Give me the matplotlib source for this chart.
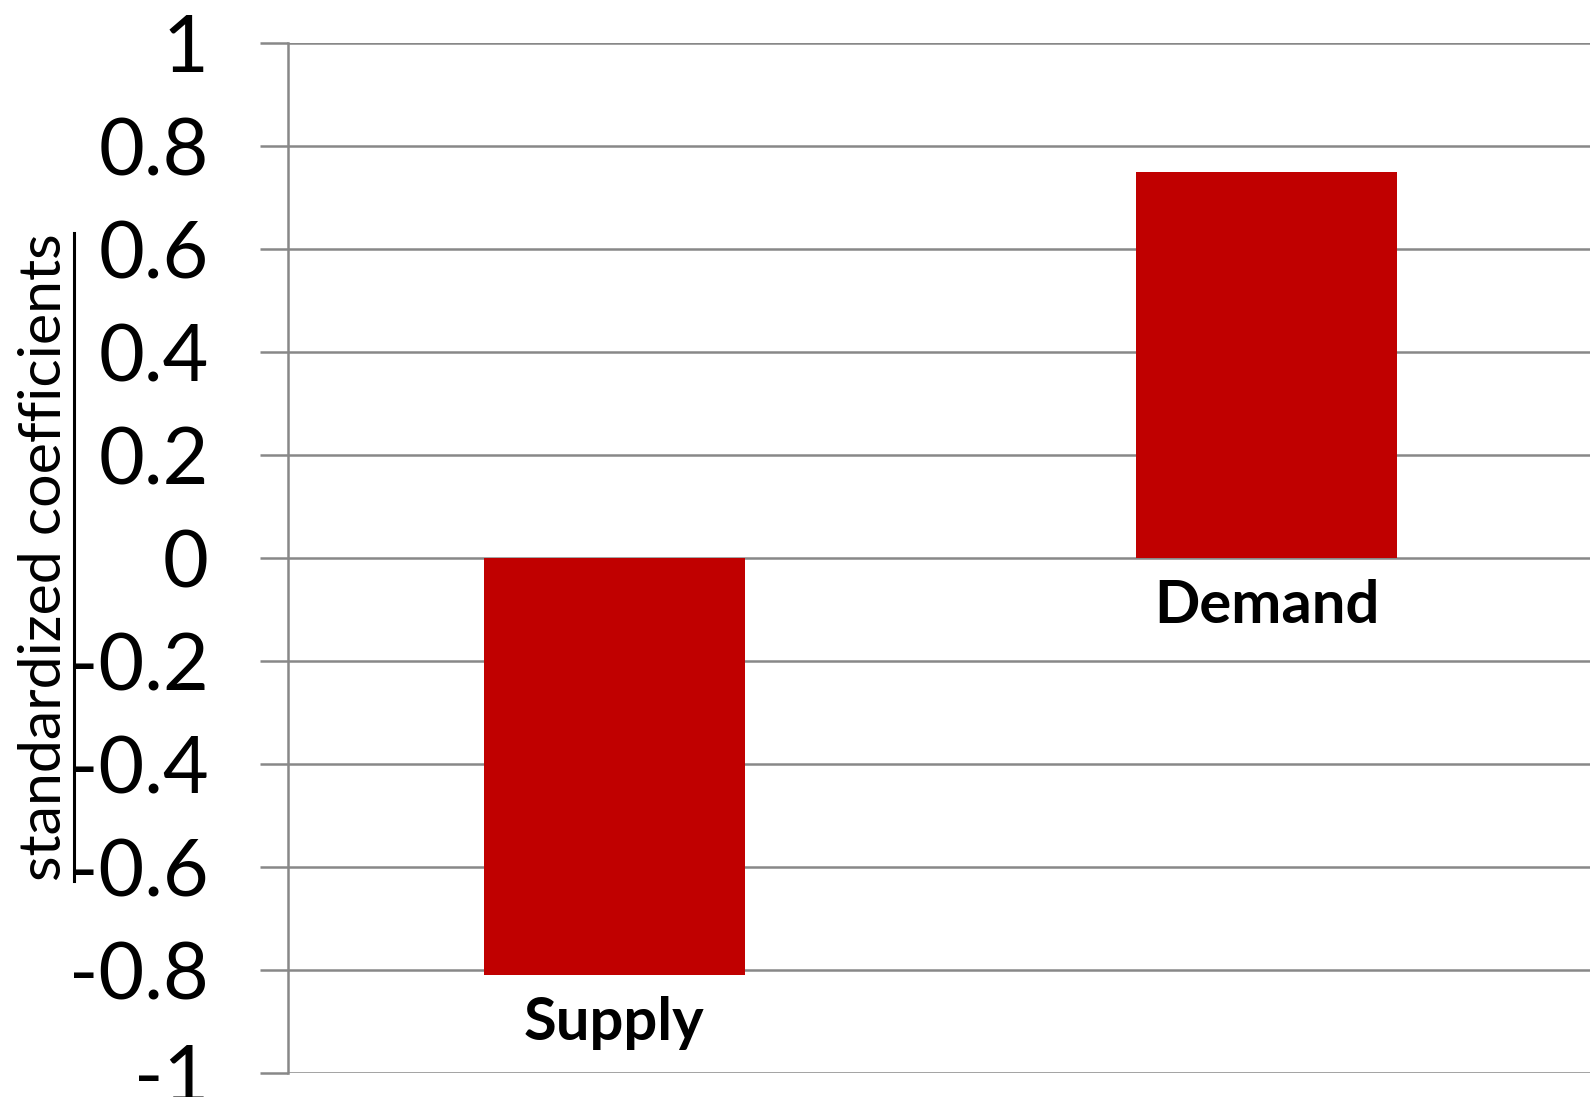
import matplotlib
matplotlib.use("Agg")
import matplotlib.pyplot as plt
from matplotlib.lines import Line2D

categories = ["Supply", "Demand"]
values = [-0.81, 0.75]
yticks = [-1, -0.8, -0.6, -0.4, -0.2, 0, 0.2, 0.4, 0.6, 0.8, 1]
ytick_labels = ["-1", "-0.8", "-0.6", "-0.4", "-0.2", "0", "0.2", "0.4", "0.6", "0.8", "1"]
ylabel = "standardized coefficients"

W, H = 1590, 1097
fig = plt.figure(figsize=(W / 100, H / 100), dpi=100)
ax = fig.add_axes([288 / W, (H - 1073) / H, 1 - 288 / W + 0.002, (1073 - 43.3) / H])

grid_c = "#888888"
x = list(range(len(categories)))
ax.bar(x, values, width=0.40, color="#c00000", zorder=3)
ax.set_xlim(-0.5, 1.5)
ax.set_ylim(-1, 1)
ax.set_yticks(yticks)
ax.set_yticklabels(ytick_labels, fontfamily="Lato", fontsize=57)
ax.yaxis.grid(True, color=grid_c, linewidth=1.8, zorder=0)
ax.tick_params(axis="y", length=20, width=1.8, color=grid_c, pad=37)
ax.set_xticks([])
for s in ["top", "right", "bottom"]:
    ax.spines[s].set_visible(False)
ax.spines["left"].set_color(grid_c)
ax.spines["left"].set_linewidth(1.8)
ax.spines["left"].set_zorder(4)

for xi, v, c in zip(x, values, categories):
    ax.annotate(c, xy=(xi, min(v, 0)), xytext=(0, -15), textcoords="offset points",
                ha="center", va="top", fontfamily="Lato", fontweight="bold",
                fontsize=43, color="black")

t = fig.text(45 / W, 1 - 557 / H, ylabel, rotation=90, ha="center", va="center",
             fontfamily="Lato", fontsize=42.5, color="black")
fig.canvas.draw()
bb = t.get_window_extent()
ux = (bb.x1 + 2) / W
fig.add_artist(Line2D([ux, ux], [bb.y0 / H, bb.y1 / H], color="black", linewidth=2.2))

fig.savefig("out.png", dpi=100)
